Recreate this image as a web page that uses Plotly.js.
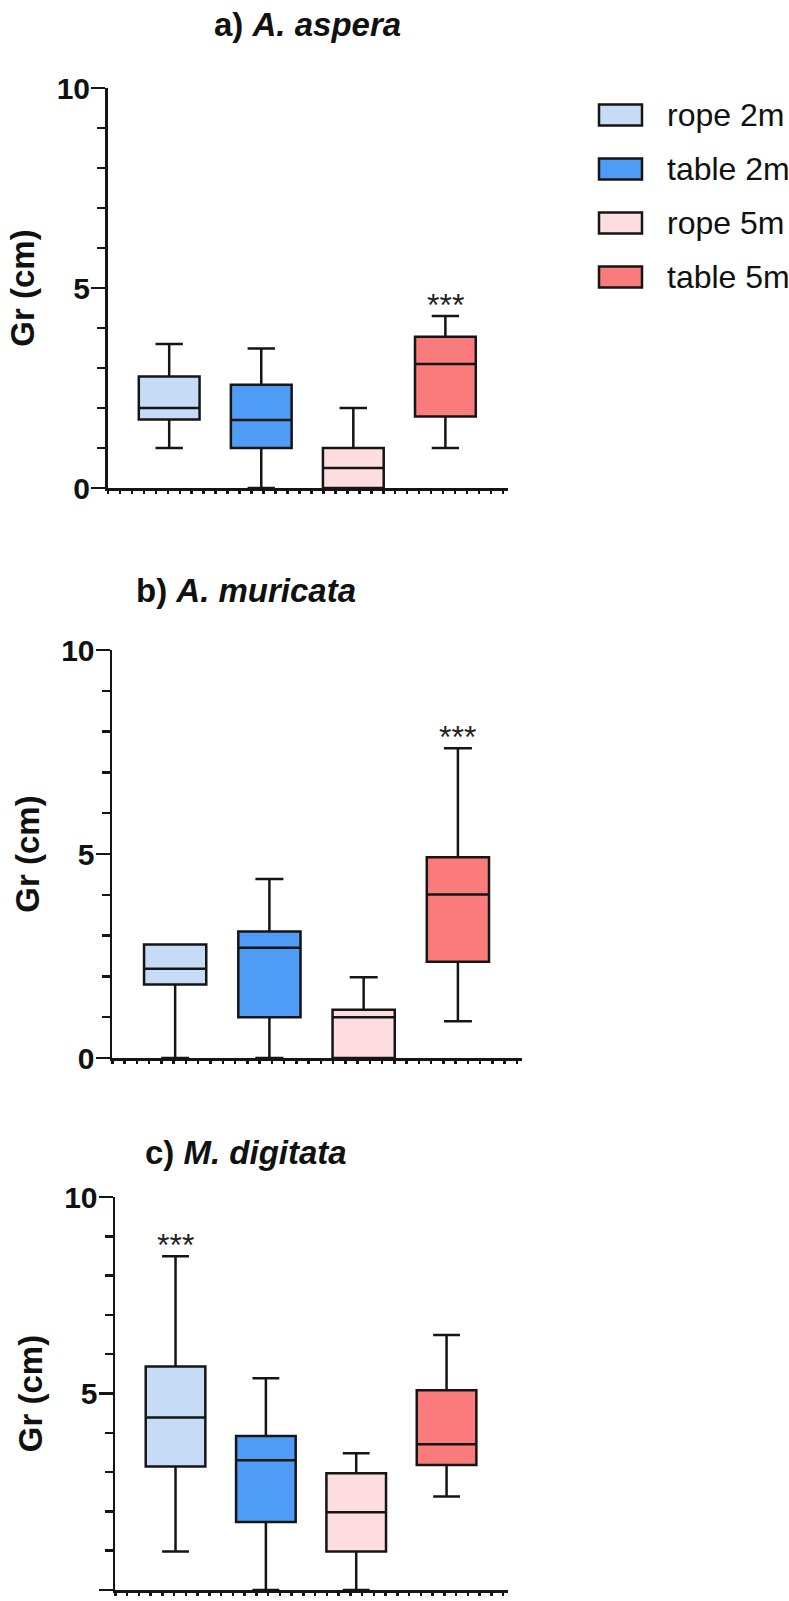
<!DOCTYPE html>
<html>
<head>
<meta charset="utf-8">
<script src="https://cdn.plot.ly/plotly-3.0.1.min.js"></script>
<style>html,body{margin:0;padding:0;background:#fff;}#chart{width:789px;height:1601px;}</style>
</head>
<body>
<div id="chart"></div>
<script>
// ---- data ----
const categories = ['rope 2m', 'table 2m', 'rope 5m', 'table 5m'];
const fillColors = ['#c6dcf6', '#4f9cf6', '#fddde0', '#fa7b7b'];

const panelTitles = ['a) <i>A. aspera</i>', 'b) <i>A. muricata</i>', 'c) <i>M. digitata</i>'];
const yTitle = 'Gr (cm)';
const yTickVals = [0, 5, 10];

// a) A. aspera
const asperaLow    = [1.0, 0.0, 0.0, 1.0];
const asperaQ1     = [1.71, 1.0, 0.0, 1.79];
const asperaMedian = [2.0, 1.7, 0.5, 3.1];
const asperaQ3     = [2.79, 2.58, 1.0, 3.78];
const asperaHigh   = [3.6, 3.49, 2.0, 4.3];

// b) A. muricata
const muricataLow    = [0.0, 0.0, 0.0, 0.9];
const muricataQ1     = [1.8, 1.0, 0.0, 2.36];
const muricataMedian = [2.19, 2.7, 1.0, 4.01];
const muricataQ3     = [2.78, 3.1, 1.18, 4.92];
const muricataHigh   = [2.78, 4.39, 1.98, 7.59];

// c) M. digitata
const digitataLow    = [0.98, 0.0, 0.0, 2.38];
const digitataQ1     = [3.14, 1.73, 0.98, 3.18];
const digitataMedian = [4.39, 3.3, 1.98, 3.71];
const digitataQ3     = [5.69, 3.92, 2.97, 5.08];
const digitataHigh   = [8.49, 5.39, 3.48, 6.49];

// significance marker (category index per panel)
const sigLabel = '***';
const sigIndex = [3, 3, 0];

// ---- build ----
const panels = [
  {low: asperaLow, q1: asperaQ1, med: asperaMedian, q3: asperaQ3, high: asperaHigh},
  {low: muricataLow, q1: muricataQ1, med: muricataMedian, q3: muricataQ3, high: muricataHigh},
  {low: digitataLow, q1: digitataQ1, med: digitataMedian, q3: digitataQ3, high: digitataHigh}
];

const W = 789, H = 1601;
const px = v => v / W;
const py = v => 1 - v / H;

// panel pixel frames [xLeft, xRight, yTop(10), yBottom(0)]
const frames = [
  [107.5, 508, 88, 488],
  [112, 522, 650, 1058],
  [115, 508, 1197, 1590]
];
const titlePos = [[307, 25], [246, 590], [246, 1152]];

const FONT = 'Liberation Sans, Arial, Helvetica, sans-serif';
const INK = '#151515';
const traces = [];
const layout = {
  width: W, height: H,
  margin: {l: 0, r: 0, t: 0, b: 0},
  paper_bgcolor: '#ffffff', plot_bgcolor: 'rgba(0,0,0,0)',
  showlegend: false,
  font: {family: FONT, color: '#111111'},
  annotations: [], shapes: []
};

panels.forEach((p, k) => {
  const xa = k === 0 ? 'x' : 'x' + (k + 1);
  const ya = k === 0 ? 'y' : 'y' + (k + 1);
  categories.forEach((c, i) => {
    traces.push({
      type: 'box', name: c, xaxis: xa, yaxis: ya,
      x: [i], q1: [p.q1[i]], median: [p.med[i]], q3: [p.q3[i]],
      lowerfence: [p.low[i]], upperfence: [p.high[i]],
      width: 0.66, whiskerwidth: 0.45, boxpoints: false,
      fillcolor: fillColors[i],
      line: {color: INK, width: 2.5},
      hoverinfo: 'y'
    });
  });
  const f = frames[k];
  const xKey = k === 0 ? 'xaxis' : 'xaxis' + (k + 1);
  const yKey = k === 0 ? 'yaxis' : 'yaxis' + (k + 1);
  layout[xKey] = {
    domain: [px(f[0]), px(f[1])], anchor: ya,
    range: [-0.67, 3.68], showgrid: false, zeroline: false,
    showline: true, linecolor: INK, linewidth: 2.5,
    tickmode: 'linear', tick0: -0.535, dtick: 0.13,
    ticks: 'outside', ticklen: 3, tickwidth: 2.5, tickcolor: INK,
    showticklabels: false, fixedrange: true
  };
  layout[yKey] = {
    domain: [py(f[3]), py(f[2])], anchor: xa,
    range: [0, 10], showgrid: false, zeroline: false,
    showline: true, linecolor: INK, linewidth: 2.5,
    tickmode: 'array', tickvals: yTickVals,
    ticks: 'outside', ticklen: 14, tickwidth: 2.5, tickcolor: INK,
    ticklabelstandoff: -5,
    minor: {dtick: 1, ticks: 'outside', ticklen: 8, tickwidth: 2.5, tickcolor: INK},
    tickfont: {family: FONT, size: 30, weight: 'bold', color: '#111111'},
    title: {text: '<b>' + yTitle + '</b>', font: {family: FONT, size: 33, color: '#111111'}, standoff: 12},
    fixedrange: true
  };
  // panel title
  layout.annotations.push({
    xref: 'paper', yref: 'paper', x: px(titlePos[k][0]), y: py(titlePos[k][1]),
    xanchor: 'center', yanchor: 'middle', showarrow: false,
    text: '<b>' + panelTitles[k] + '</b>',
    font: {family: FONT, size: 33, color: '#111111'}
  });
  // significance
  const s = sigIndex[k];
  layout.annotations.push({
    xref: xa, yref: ya, x: s, y: p.high[s],
    xanchor: 'center', yanchor: 'bottom', yshift: -9, showarrow: false,
    text: sigLabel, font: {family: FONT, size: 32, color: '#222222'}
  });
});

// legend (custom, large swatches)
categories.forEach((c, i) => {
  const cy = 115 + i * 54;
  layout.shapes.push({
    type: 'rect', xref: 'paper', yref: 'paper',
    x0: px(599), x1: px(642), y0: py(cy + 10.5), y1: py(cy - 10.5),
    fillcolor: fillColors[i], line: {color: INK, width: 2.5}
  });
  layout.annotations.push({
    xref: 'paper', yref: 'paper', x: px(665), y: py(cy),
    xanchor: 'left', yanchor: 'middle', showarrow: false,
    text: c, font: {family: FONT, size: 32, color: '#111111'}
  });
});

Plotly.newPlot('chart', traces, layout, {displayModeBar: false, staticPlot: true});
</script>
</body>
</html>
